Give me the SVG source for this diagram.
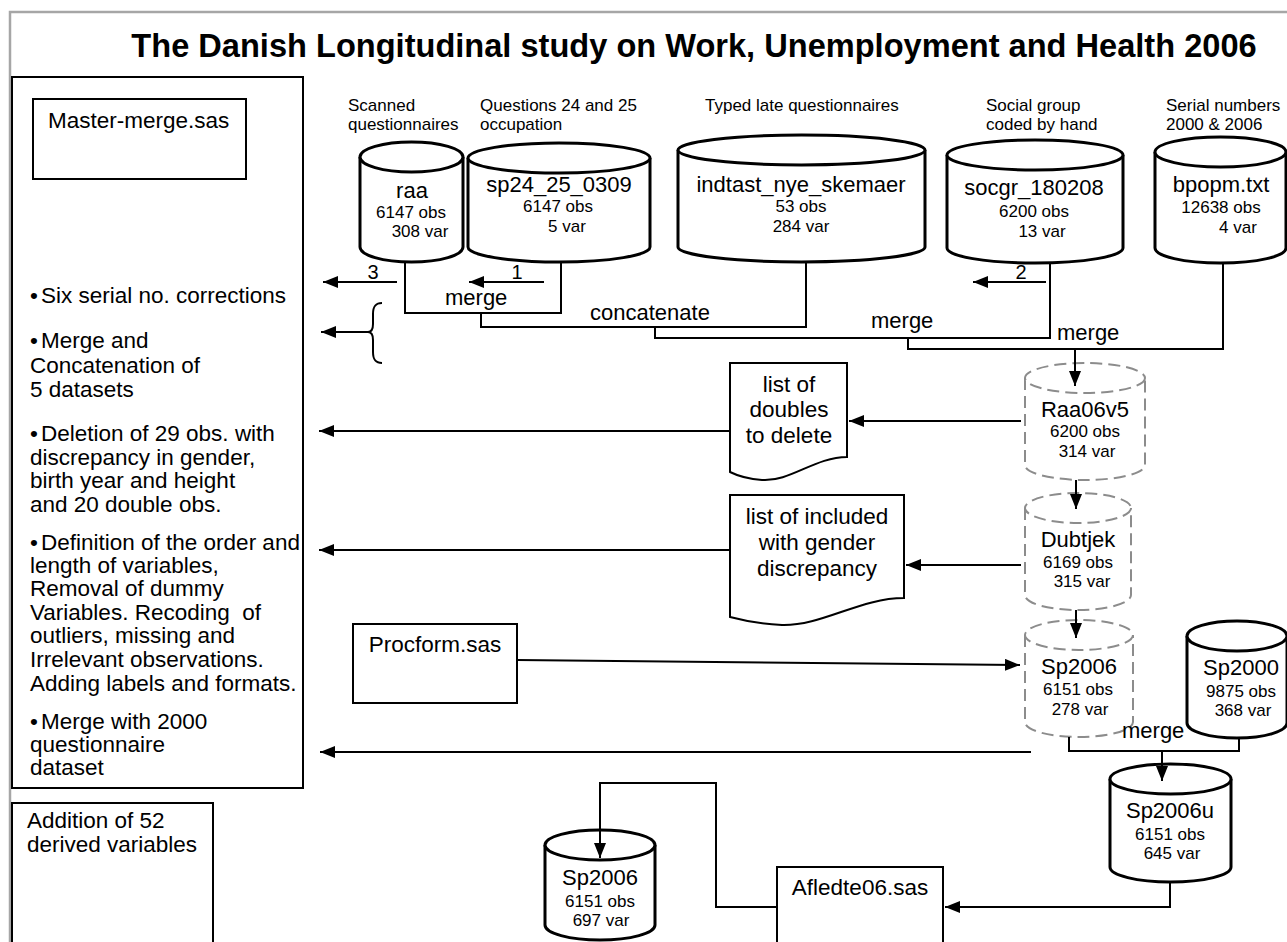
<svg xmlns="http://www.w3.org/2000/svg" width="1287" height="942" viewBox="0 0 1287 942">
<style>
text{font-family:"Liberation Sans",Arial,sans-serif;fill:#000}
.t{font-size:32.6px;font-weight:bold;text-anchor:middle}
.lb{font-size:17px}
.nm{font-size:22px;text-anchor:middle}
.st{font-size:17px;text-anchor:middle}
.bx{font-size:22.5px}
.bc{font-size:22.5px;text-anchor:middle}
.ml{font-size:22px}
.num{font-size:20px;text-anchor:middle}
.cyl{fill:#fff;stroke:#000;stroke-width:3}
.dcyl{fill:#fff;stroke:#8c8c8c;stroke-width:2;stroke-dasharray:12 6}
.box{fill:#fff;stroke:#000;stroke-width:2}
.ln{fill:none;stroke:#000;stroke-width:2}
.ar{fill:none;stroke:#000;stroke-width:2;marker-end:url(#ah)}
</style>
<defs>
<marker id="ah" viewBox="0 0 15 12" refX="15" refY="6" markerWidth="15" markerHeight="12" orient="auto" markerUnits="userSpaceOnUse"><path d="M0,0 L15,6 L0,12 z" fill="#000"/></marker>
</defs>
<rect width="1287" height="942" fill="#fff"/>
<path d="M10,942 V12 H1287" fill="none" stroke="#a6a6a6" stroke-width="2.5"/>
<text class="t" x="694" y="57">The Danish Longitudinal study on Work, Unemployment and Health 2006</text>

<g id="left-box">
<rect class="box" x="12" y="77" width="291" height="711"/>
<g class="bx">
<text x="30" y="303">•<tspan x="41">Six serial no. corrections</tspan></text>
<text x="30" y="348">•<tspan x="41">Merge and</tspan></text>
<text x="30" y="373">Concatenation of</text>
<text x="30" y="397">5 datasets</text>
<text x="30" y="441">•<tspan x="41">Deletion of 29 obs. with</tspan></text>
<text x="30" y="465">discrepancy in gender,</text>
<text x="30" y="488">birth year and height</text>
<text x="30" y="512">and 20 double obs.</text>
<text x="30" y="550">•<tspan x="41">Definition of the order and</tspan></text>
<text x="30" y="573">length of variables,</text>
<text x="30" y="596">Removal of dummy</text>
<text x="30" y="620" xml:space="preserve">Variables. Recoding  of</text>
<text x="30" y="643">outliers, missing and</text>
<text x="30" y="667">Irrelevant observations.</text>
<text x="30" y="691">Adding labels and formats.</text>
<text x="30" y="729">•<tspan x="41">Merge with 2000</tspan></text>
<text x="30" y="752">questionnaire</text>
<text x="30" y="775">dataset</text>
</g>
</g>
<g id="master-merge">
<rect class="box" x="33" y="99" width="213" height="80"/>
<text class="bx" x="48" y="128">Master-merge.sas</text>
</g>
<g id="addition">
<rect class="box" x="12" y="803" width="201" height="150"/>
<text class="bx" x="27" y="828">Addition of 52</text>
<text class="bx" x="27" y="852">derived variables</text>
</g>

<g id="labels" class="lb">
<text x="348" y="111">Scanned</text>
<text x="348" y="130">questionnaires</text>
<text x="480" y="111">Questions 24 and 25</text>
<text x="480" y="130">occupation</text>
<text x="705" y="111">Typed late questionnaires</text>
<text x="986" y="111">Social group</text>
<text x="986" y="130">coded by hand</text>
<text x="1166" y="111">Serial numbers</text>
<text x="1166" y="130">2000 &amp; 2006</text>
</g>

<g id="raa">
<path class="cyl" d="M360,157 V247 A51.5,15 0 0 0 463,247 V157"/>
<ellipse class="cyl" cx="411.5" cy="157" rx="51.5" ry="15"/>
<text class="nm" x="412" y="198">raa</text>
<text class="st" x="411" y="218">6147 obs</text>
<text class="st" x="420" y="237">308 var</text>
</g>
<g id="sp24_25_0309">
<path class="cyl" d="M468,158 V247 A91,15 0 0 0 650,247 V158"/>
<ellipse class="cyl" cx="559" cy="158" rx="91" ry="15"/>
<text class="nm" x="559" y="192">sp24_25_0309</text>
<text class="st" x="558" y="212">6147 obs</text>
<text class="st" x="567" y="232">5 var</text>
</g>
<g id="indtast">
<path class="cyl" d="M678,150 V247 A123.5,15 0 0 0 925,247 V150"/>
<ellipse class="cyl" cx="801.5" cy="150" rx="123.5" ry="15"/>
<text class="nm" x="801" y="192">indtast_nye_skemaer</text>
<text class="st" x="801" y="212">53 obs</text>
<text class="st" x="801" y="232">284 var</text>
</g>
<g id="socgr">
<path class="cyl" d="M947,155 V248 A88,15 0 0 0 1123,248 V155"/>
<ellipse class="cyl" cx="1035" cy="155" rx="88" ry="15"/>
<text class="nm" x="1034" y="195">socgr_180208</text>
<text class="st" x="1034" y="217">6200 obs</text>
<text class="st" x="1042" y="237">13 var</text>
</g>
<g id="bpopm">
<path class="cyl" d="M1155,152 V248 A65.5,15 0 0 0 1286,248 V152"/>
<ellipse class="cyl" cx="1220.5" cy="152" rx="65.5" ry="15"/>
<text class="nm" x="1221" y="192">bpopm.txt</text>
<text class="st" x="1221" y="213">12638 obs</text>
<text class="st" x="1238" y="233">4 var</text>
</g>

<g id="raa06v5">
<path class="dcyl" d="M1025,378 V465 A60,15 0 0 0 1145,465 V378"/>
<ellipse class="dcyl" cx="1085" cy="378" rx="60" ry="15"/>
<text class="nm" x="1085" y="417">Raa06v5</text>
<text class="st" x="1085" y="437">6200 obs</text>
<text class="st" x="1087" y="457">314 var</text>
</g>
<g id="dubtjek">
<path class="dcyl" d="M1025,508 V595 A53,15 0 0 0 1131,595 V508"/>
<ellipse class="dcyl" cx="1078" cy="508" rx="53" ry="15"/>
<text class="nm" x="1078" y="547">Dubtjek</text>
<text class="st" x="1078" y="568">6169 obs</text>
<text class="st" x="1082" y="587">315 var</text>
</g>
<g id="sp2006a">
<path class="dcyl" d="M1025,635 V722 A54,15 0 0 0 1133,722 V635"/>
<ellipse class="dcyl" cx="1079" cy="635" rx="54" ry="15"/>
<text class="nm" x="1079" y="674">Sp2006</text>
<text class="st" x="1078" y="695">6151 obs</text>
<text class="st" x="1080" y="715">278 var</text>
</g>
<g id="sp2000">
<path class="cyl" d="M1187,636 V723 A50,15 0 0 0 1287,723 V636"/>
<ellipse class="cyl" cx="1237" cy="636" rx="50" ry="15"/>
<text class="nm" x="1241" y="675">Sp2000</text>
<text class="st" x="1241" y="697">9875 obs</text>
<text class="st" x="1243" y="716">368 var</text>
</g>
<g id="sp2006u">
<path class="cyl" d="M1110,779 V867 A60.5,15 0 0 0 1231,867 V779"/>
<ellipse class="cyl" cx="1170.5" cy="779" rx="60.5" ry="15"/>
<text class="nm" x="1170" y="818">Sp2006u</text>
<text class="st" x="1170" y="840">6151 obs</text>
<text class="st" x="1172" y="859">645 var</text>
</g>
<g id="sp2006b">
<path class="cyl" d="M545,845 V925 A55,15 0 0 0 655,925 V845"/>
<ellipse class="cyl" cx="600" cy="845" rx="55" ry="15"/>
<text class="nm" x="600" y="885">Sp2006</text>
<text class="st" x="600" y="907">6151 obs</text>
<text class="st" x="601" y="926">697 var</text>
</g>

<g id="doc-doubles">
<path class="box" d="M730,363 H847 V457 C815,457 790,482 762,480 C748,479 738,476 730,472 Z"/>
<text class="bc" x="789" y="392">list of</text>
<text class="bc" x="789" y="417">doubles</text>
<text class="bc" x="789" y="443">to delete</text>
</g>
<g id="doc-gender">
<path class="box" d="M730,495 H904 V598 C860,598 822,626 782,625 C762,624 745,621 730,617 Z"/>
<text class="bc" x="817" y="524">list of included</text>
<text class="bc" x="817" y="550">with gender</text>
<text class="bc" x="817" y="576">discrepancy</text>
</g>
<g id="procform">
<rect class="box" x="353" y="624" width="164" height="79"/>
<text class="bc" x="435" y="652">Procform.sas</text>
</g>
<g id="afledte">
<rect class="box" x="777" y="867" width="166" height="90"/>
<text class="bc" x="860" y="895">Afledte06.sas</text>
</g>

<g id="connectors">
<path class="ln" d="M405,262 V313 H561 V262"/>
<path class="ln" d="M481,313 V327 H806 V262"/>
<path class="ln" d="M655,327 V338 H1050 V263"/>
<path class="ln" d="M908,338 V349 H1223 V263"/>
<path class="ar" d="M1075,349 V386"/>
<path class="ar" d="M397,282 H323"/>
<path class="ar" d="M544,282 H469"/>
<path class="ar" d="M1046,282 H973"/>
<path class="ln" d="M382,303 C375,303 373,307 373,314 V324 C373,330 371,332 368,332 C371,332 373,334 373,340 V352 C373,359 375,363 382,363"/>
<path class="ar" d="M368,332 H321"/>
<path class="ar" d="M1021,421 H849"/>
<path class="ar" d="M730,431 H319"/>
<path class="ar" d="M1076,480 V509"/>
<path class="ar" d="M1021,565 H906"/>
<path class="ar" d="M730,550 H319"/>
<path class="ar" d="M1076,610 V638"/>
<path class="ar" d="M517,660 L1020,665"/>
<path class="ln" d="M1069,737 V751 H1239 V738"/>
<path class="ar" d="M1162,751 V781"/>
<path class="ar" d="M1031,752 H320"/>
<path class="ar" d="M1170,882 V907 H945"/>
<path class="ar" d="M777,907 H716 V783 H600 V858"/>
</g>
<g id="connector-labels">
<text class="ml" x="445" y="305">merge</text>
<text class="ml" x="590" y="320">concatenate</text>
<text class="ml" x="871" y="328">merge</text>
<text class="ml" x="1057" y="340">merge</text>
<text class="ml" x="1122" y="738">merge</text>
<text class="num" x="373" y="279">3</text>
<text class="num" x="517" y="279">1</text>
<text class="num" x="1021" y="279">2</text>
</g>
</svg>
